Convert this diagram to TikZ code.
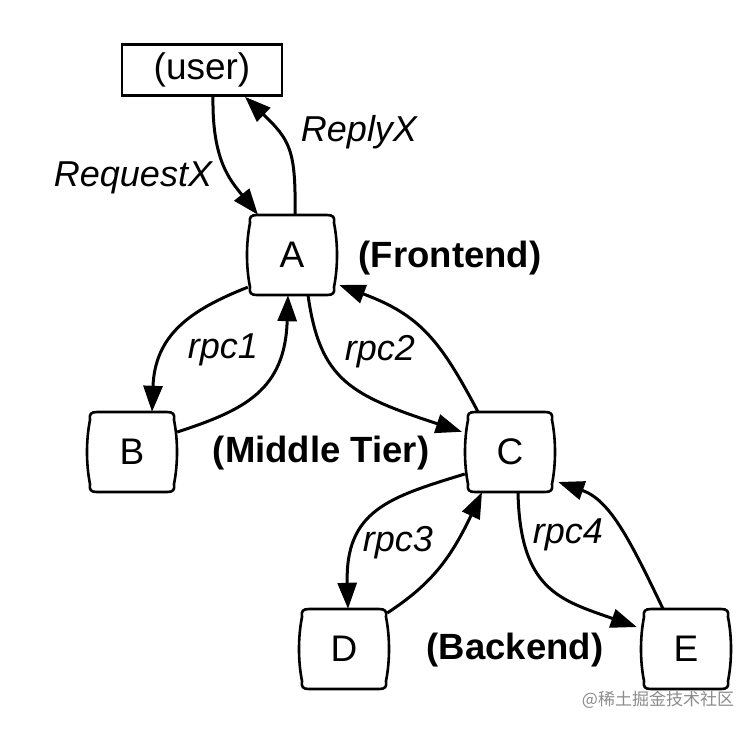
\documentclass[tikz,border=0pt]{standalone}
\usepackage{fontspec}
\setmainfont{Liberation Sans}
\newfontfamily\cjkfont{Noto Sans CJK SC}
\usetikzlibrary{arrows.meta,calc}
\newcommand\srvoutline[1]{%
  \begin{scope}[shift={(#1.center)}]
    \draw[outline] (-35,-40) -- (35,-40) .. controls (41,-40) and (43,-38) .. (42,-32)
      .. controls (46,-12) and (46,12) .. (42,32) .. controls (43,38) and (41,40) .. (35,40)
      -- (-35,40) .. controls (-41,40) and (-43,38) .. (-42,32)
      .. controls (-46,12) and (-46,-12) .. (-42,-32) .. controls (-43,-38) and (-41,-40) .. (-35,-40) -- cycle;
  \end{scope}}
\begin{document}
\begin{tikzpicture}[x=1pt,y=-1pt,
  every node/.style={font=\fontsize{37}{42}\selectfont},
  srv/.style={minimum width=90pt,minimum height=80pt,inner sep=0pt},
  userbox/.style={draw,line width=2.6pt,minimum width=160pt,minimum height=51pt,inner sep=0pt},
  tier/.style={font=\fontsize{36.5}{42}\selectfont\bfseries},
  msg/.style={font=\fontsize{36}{42}\selectfont\itshape},
  conn/.style={line width=3pt,-{Triangle[length=26pt,width=19pt]}},
  outline/.style={line width=2.6pt,line join=round}]
\useasboundingbox[fill=white] (0,0) rectangle (749,731);

\node[userbox] (user) at (202,70) {(user)};
\node[srv] (A) at (292,255) {A};
\node[srv] (B) at (132,452) {B};
\node[srv] (C) at (510,452) {C};
\node[srv] (D) at (344,649) {D};
\node[srv] (E) at (686,649) {E};
\foreach \n in {A,B,C,D,E} {\srvoutline{\n}}

\node[tier] (fe) at (450,258) {(Frontend)};
\node[tier] (mt) at (321,453) {(Middle Tier)};
\node[tier] (be) at (515,650) {(Backend)};

\node[msg] (reqx) at (133,178) {RequestX};
\node[msg] (repx) at (359,132) {ReplyX};
\node[msg] (r1) at (223,350) {rpc1};
\node[msg] (r2) at (380,352) {rpc2};
\node[msg] (r3) at (398,543) {rpc3};
\node[msg] (r4) at (568,535) {rpc4};

\node[font=\cjkfont\fontsize{17}{20}\selectfont, text=black!45] (wm) at (658,700) {@稀土掘金技术社区};

% user <-> A
\draw[conn] ($(user.south)+(11,0)$) .. controls (212,160) and (230,180) .. ($(A.north)+(-34,0)$);
\draw[conn] ($(A.north)+(3,0)$) .. controls (296,150) and (290,140) .. ($(user.south)+(43,0)$);
% A <-> B
\draw[conn] ($(A.south west)+(1,-8)$) .. controls (190,310) and (155,335) .. ($(B.north)+(20,0)$);
\draw[conn] ($(B.east)+(0,-20)$) .. controls (245,410) and (285,390) .. ($(A.south)+(-4,0)$);
% A <-> C
\draw[conn] ($(A.south)+(16,0)$) .. controls (320,380) and (350,395) .. ($(C.north west)+(-3,20)$);
\draw[conn] ($(C.north)+(-32,0)$) .. controls (440,340) and (420,315) .. ($(A.east)+(2,30)$);
% C <-> D
\draw[conn] ($(C.west)+(0,22)$) .. controls (390,497) and (345,510) .. ($(D.north)+(4,0)$);
\draw[conn] ($(D.east)+(-2,-36)$) .. controls (430,585) and (450,560) .. ($(C.south)+(-28,0)$);
% C <-> E
\draw[conn] ($(C.south)+(8,0)$) .. controls (520,590) and (560,600) .. ($(E.west)+(-4,-22)$);
\draw[conn] ($(E.north)+(-23,0)$) .. controls (630,540) and (610,500) .. ($(C.east)+(3,30)$);
\end{tikzpicture}
\end{document}
